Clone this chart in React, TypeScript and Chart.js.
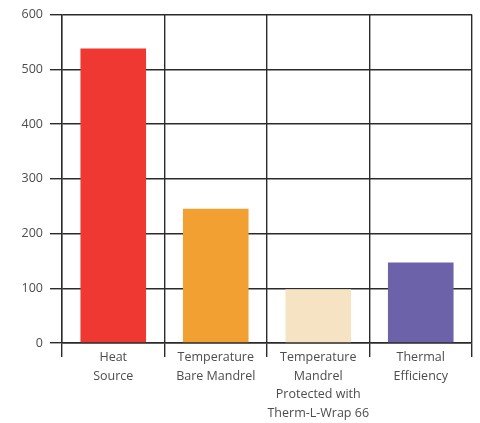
import { useEffect, useRef } from "react";
import { Chart, registerables } from "chart.js";

Chart.register(...registerables);

const categories: string[][] = [
  ["Heat", "Source"],
  ["Temperature", "Bare Mandrel"],
  ["Temperature", "Mandrel", "Protected with", "Therm-L-Wrap 66"],
  ["Thermal", "Efficiency"],
];
const values = [538, 245, 98, 147];
const barColors = ["#EE3831", "#F3A033", "#F5E3C3", "#6C62AA"];

const LINE = "#2b2b2b";
const TEXT = "#4d4d4d";

function BarChart() {
  const canvasRef = useRef<HTMLCanvasElement | null>(null);
  const chartRef = useRef<Chart | null>(null);

  useEffect(() => {
    if (!canvasRef.current) return;
    if (chartRef.current) chartRef.current.destroy();

    const font = { family: "'Open Sans', sans-serif", size: 12.5 };

    chartRef.current = new Chart(canvasRef.current, {
      type: "bar",
      data: {
        labels: categories,
        datasets: [
          {
            data: values,
            backgroundColor: barColors,
            borderWidth: 0,
            barPercentage: 0.64,
            categoryPercentage: 1,
          },
        ],
      },
      options: {
        animation: false,
        responsive: false,
        maintainAspectRatio: false,
        layout: { padding: { top: 8, right: 8, left: 0, bottom: 0 } },
        plugins: {
          legend: { display: false },
          tooltip: { enabled: false },
        },
        scales: {
          x: {
            offset: true,
            grid: {
              offset: true,
              color: LINE,
              lineWidth: 1.4,
              tickLength: 14,
            },
            border: { color: LINE, width: 1.4 },
            ticks: {
              color: TEXT,
              font: { ...font, lineHeight: 1.5 },
              padding: -9,
              maxRotation: 0,
              autoSkip: false,
            },
            afterFit: (scale) => {
              scale.height = 80;
            },
          },
          y: {
            min: 0,
            max: 600,
            grid: { color: LINE, lineWidth: 1.4, tickLength: 12 },
            border: { color: LINE, width: 1.4 },
            ticks: {
              stepSize: 100,
              color: TEXT,
              font,
              padding: 7,
            },
            afterFit: (scale) => {
              scale.width = 62;
            },
          },
        },
      },
    });

    return () => {
      if (chartRef.current) {
        chartRef.current.destroy();
        chartRef.current = null;
      }
    };
  }, []);

  return <canvas ref={canvasRef} width={480} height={423}></canvas>;
}

export default function App() {
  useEffect(() => {
    document.body.style.margin = "0";
  }, []);
  return (
    <div style={{ width: 480, height: 423, background: "#fff" }}>
      <BarChart />
    </div>
  );
}
